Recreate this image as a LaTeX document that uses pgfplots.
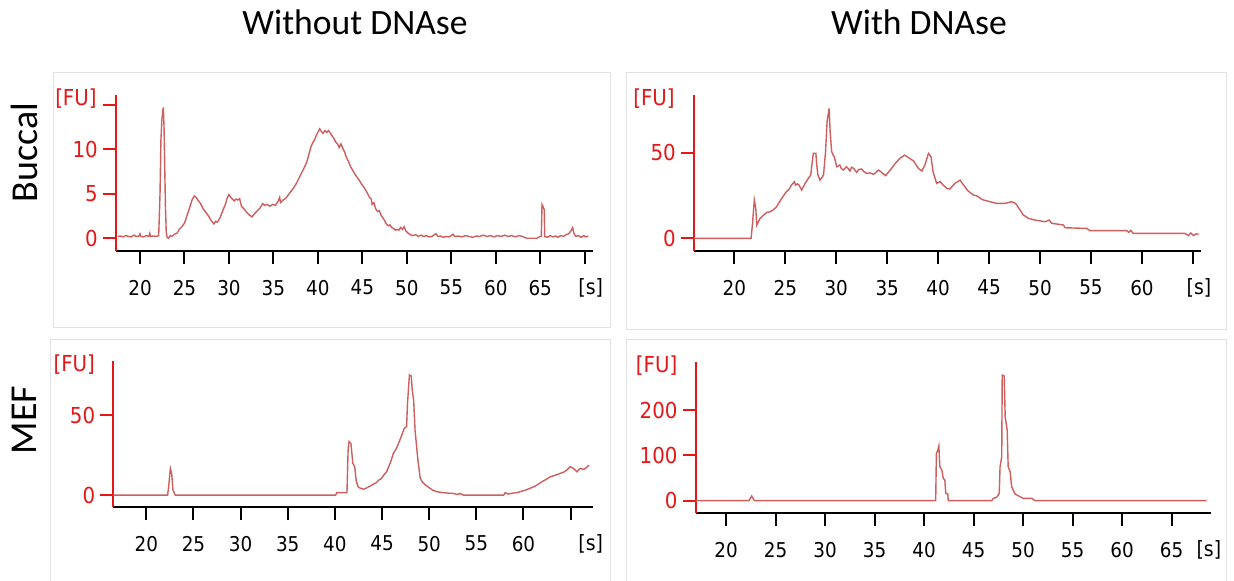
\documentclass[border=0pt]{standalone}
\usepackage{fontspec}
\setmainfont{Carlito}
\newfontfamily\tickfont{DejaVu Sans Condensed}
\usepackage{pgfplots}
\pgfplotsset{compat=1.18}
\definecolor{axred}{RGB}{228,24,24}
\definecolor{linec}{RGB}{205,95,95}
\definecolor{framegray}{RGB}{225,225,225}
\pgfplotsset{
  ep/.style={
    scale only axis, anchor=south west, clip=false,
    axis x line*=bottom, axis y line*=left,
    x axis line style={black, line width=1.1pt},
    y axis line style={axred, line width=1pt},
    tick align=outside, major tick length=6.5pt,
    x tick style={black, line width=1pt},
    y tick style={axred, line width=1pt},
    minor tick num=0,
    xticklabel style={font=\tickfont\fontsize{10.2}{11}\selectfont, inner sep=0pt, anchor=north, yshift=-8pt},
    yticklabel style={font=\tickfont\fontsize{11}{12}\selectfont, text=axred, inner sep=0pt, anchor=east, xshift=-2.4pt},
    scaled ticks=false,
  },
}
\tikzset{
  pl/.style={linec, line width=0.7pt, mark=none},
  slab/.style={font=\tickfont\fontsize{10.5}{11}\selectfont, inner sep=0pt, anchor=north},
  fulab/.style={font=\tickfont\fontsize{11}{12}\selectfont, text=axred, inner sep=0pt, anchor=east},
}
\begin{document}
\begin{tikzpicture}
\useasboundingbox (0,0) rectangle (617pt,-290.5pt);
\fill[white] (0,0) rectangle (617pt,-290.5pt);
\draw[framegray, line width=0.5pt] (26.5pt,-36.5pt) rectangle (305pt,-164pt);
\draw[framegray, line width=0.5pt] (313pt,-36.5pt) rectangle (613pt,-165pt);
\draw[framegray, line width=0.5pt] (25pt,-170pt) rectangle (305pt,-292pt);
\draw[framegray, line width=0.5pt] (313pt,-170pt) rectangle (613pt,-292pt);

\node[anchor=base, font=\fontsize{17.8}{20}\selectfont] at (177.5pt,-17.5pt) {Without DNAse};
\node[anchor=base, font=\fontsize{17.8}{20}\selectfont] at (459.5pt,-17.5pt) {With DNAse};
\node[rotate=90, font=\fontsize{19}{21}\selectfont] at (12pt,-76.25pt) {Buccal};
\node[rotate=90, font=\fontsize{19}{21}\selectfont] at (12pt,-210pt) {MEF};

% Panel 1: Buccal without DNAse
\begin{axis}[ep, at={(58pt,-125.35pt)}, width=238.35pt, height=77.85pt,
  xmin=17.3, xmax=70.9, ymin=-1.4, ymax=16.1,
  xtick={20,25,30,35,40,45,50,55,60,65,70},
  xticklabels={20,25,30,35,40,45,50,55,60,65,},
  ytick={0,5,10,15}, yticklabels={0,5,10,}]
\addplot[pl] coordinates {
(17.5,0.2)(17.8,0.25)(18.1,0.15)(18.4,0.3)(18.7,0.2)(19.0,0.15)(19.3,0.35)(19.6,0.2)(19.9,0.25)(20.0,0.5)(20.1,0.2)(20.4,0.15)(20.7,0.3)(21.0,0.2)(21.1,0.55)(21.2,0.2)(21.5,0.25)(21.8,0.2)(22.1,0.3)
(22.25,5)(22.35,11)(22.45,13.2)(22.55,14.2)(22.62,14.7)(22.7,12.5)(22.78,8)(22.86,3.5)(22.95,0.6)(23.05,0.1)(23.2,0.0)(23.4,0.3)(23.6,0.2)(23.8,0.4)(24.0,0.5)(24.2,0.6)(24.4,1.0)(24.7,1.3)(25.0,1.7)(25.3,2.6)(25.6,3.5)(25.85,4.3)(26.1,4.75)(26.3,4.6)(26.5,4.3)(26.8,3.9)(27.1,3.3)(27.4,2.9)(27.7,2.5)(28.0,2.0)(28.3,1.6)(28.5,1.9)(28.7,1.8)(29.0,2.3)(29.3,3.1)(29.6,3.8)(29.8,4.5)(30.0,4.9)(30.2,4.6)(30.4,4.4)(30.6,4.2)(30.8,4.4)(31.0,4.3)(31.2,4.45)(31.4,3.6)(31.7,3.3)(32.0,2.9)(32.3,2.6)(32.6,2.4)(32.9,2.8)(33.2,3.1)(33.5,3.4)(33.8,3.9)(34.0,3.7)(34.3,3.8)(34.6,3.6)(34.9,3.8)(35.2,3.7)(35.5,4.1)(35.7,4.6)(35.8,4.0)(36.1,4.3)(36.4,4.5)(36.7,4.9)(37.0,5.3)(37.3,5.7)(37.6,6.2)(37.9,6.8)(38.2,7.4)(38.5,8.0)(38.8,8.7)(39.0,9.5)(39.2,10.2)(39.4,10.7)(39.6,11.0)(39.8,11.5)(40.0,11.9)(40.2,12.3)(40.4,12.0)(40.6,11.8)(40.8,12.1)(41.0,11.9)(41.2,12.1)(41.4,11.8)(41.6,11.5)(41.8,11.2)(42.0,10.8)(42.2,10.6)(42.4,10.2)(42.6,10.6)(42.8,10.1)(43.0,9.7)(43.2,9.1)(43.4,8.7)(43.7,8.0)(44.0,7.5)(44.3,7.0)(44.6,6.6)(44.9,6.1)(45.2,5.7)(45.5,5.2)(45.8,4.6)(46.0,4.4)(46.1,3.8)(46.3,4.0)(46.5,3.3)(46.7,3.0)(46.9,3.1)(47.1,2.6)(47.3,2.3)(47.5,2.0)(47.7,1.6)(47.9,1.4)(48.1,1.5)(48.3,1.2)(48.5,1.1)(48.7,0.9)(48.9,1.0)(49.1,0.9)(49.3,1.2)(49.5,1.0)(49.7,1.3)(49.9,0.8)(50.1,0.6)(50.4,0.4)(50.7,0.3)(51.0,0.4)(51.3,0.2)(51.6,0.35)(51.9,0.2)(52.2,0.3)(52.5,0.15)(52.8,0.2)(53.1,0.4)(53.3,0.5)(53.5,0.2)(53.8,0.25)(54.1,0.1)(54.4,0.2)(54.7,0.15)(55.0,0.3)(55.2,0.45)(55.4,0.2)(55.8,0.25)(56.2,0.15)(56.6,0.3)(57.0,0.2)(57.4,0.1)(57.8,0.25)(58.2,0.2)(58.6,0.35)(59.0,0.2)(59.4,0.3)(59.8,0.15)(60.2,0.3)(60.6,0.2)(61.0,0.35)(61.4,0.2)(61.8,0.3)(62.2,0.15)(62.6,0.3)(63.0,0.2)(63.5,0.0)(64.0,0.0)(64.6,0.0)(65.0,0.2)(65.12,0.2)(65.2,3.8)(65.3,3.6)(65.45,3.2)(65.5,0.2)(65.8,0.1)(66.1,0.3)(66.4,0.15)(66.7,0.25)(67.0,0.1)(67.3,0.3)(67.6,0.2)(67.9,0.4)(68.2,0.5)(68.5,0.9)(68.65,1.2)(68.8,0.5)(69.0,0.2)(69.3,0.3)(69.6,0.1)(69.9,0.3)(70.1,0.15)(70.4,0.25)
};
\node[slab] at (rel axis cs:1,0) [xshift=-1pt, yshift=-13.6pt] {[s]};
\node[fulab] at (rel axis cs:0,1) [xshift=-9.5pt, yshift=-1.7pt] {[FU]};
\end{axis}

% Panel 2: Buccal with DNAse
\begin{axis}[ep, at={(347pt,-125.35pt)}, width=253.5pt, height=77.85pt,
  xmin=16.04, xmax=65.8, ymin=-7.2, ymax=83.7,
  xtick={20,25,30,35,40,45,50,55,60,65},
  xticklabels={20,25,30,35,40,45,50,55,60,},
  ytick={0,50}, yticklabels={0,50}]
\addplot[pl] coordinates {
(16.04,0)(21.64,0)(21.77,7.8)(21.96,22.4)(22.1,17.5)(22.2,7.8)(22.36,9.7)(22.5,11.5)(22.7,12.6)(22.9,13.8)(23.2,15.2)(23.5,15.5)(23.8,16.5)(24.15,18.5)(24.4,21)(24.65,23.3)(24.9,25.5)(25.1,27.2)(25.35,28.5)(25.6,31.1)(25.9,33.1)(26.0,31.1)(26.2,31.8)(26.35,31.1)(26.6,28.2)(26.95,32.1)(27.25,35.0)(27.5,37.0)(27.65,45)(27.75,49.6)(28.0,49.6)(28.1,42)(28.2,37.0)(28.4,34.0)(28.6,35.5)(28.75,37.0)(28.95,50.6)(29.1,68.1)(29.3,75.9)(29.4,62.3)(29.55,50.6)(29.7,48.5)(29.8,47.7)(30.05,41.8)(30.35,42.8)(30.5,40.8)(30.7,39.9)(31.0,41.8)(31.2,40.5)(31.35,39.3)(31.5,41.5)(31.7,40.9)(32.0,38.5)(32.2,40.2)(32.5,40.5)(32.7,39.0)(33.0,37.9)(33.3,38.2)(33.65,37.4)(33.9,38.5)(34.15,39.9)(34.45,38.5)(34.85,36.6)(35.1,38.5)(35.3,39.9)(35.8,43.8)(36.25,46.7)(36.7,48.6)(37.1,47.1)(37.6,45.1)(38.05,40.9)(38.4,39.3)(38.7,42.8)(39.05,49.6)(39.3,47.7)(39.5,38.9)(39.85,32.1)(40.2,33.1)(40.5,31.1)(40.85,29.2)(41.15,28.8)(41.4,30.5)(41.65,32.1)(42.15,34.0)(42.5,31.1)(42.95,27.6)(43.2,26.5)(43.45,25.3)(43.7,25.0)(43.95,24.3)(44.2,23.1)(44.45,22.4)(45.1,21.4)(45.75,20.4)(46.55,20.4)(47.2,21.4)(47.6,20.4)(48.05,16.5)(48.35,13.6)(48.6,12.8)(48.85,11.7)(49.5,10.7)(50.5,9.7)(50.9,10.7)(51.15,8.8)(52.3,7.8)(52.45,6.2)(54.6,5.8)(54.9,4.5)(58.5,4.5)(58.7,3.5)(58.9,4.7)(59.15,2.9)(64.2,2.9)(64.55,1.6)(64.8,3.1)(65.05,1.6)(65.3,2.6)(65.56,2.4)
};
\node[slab] at (rel axis cs:1,0) [xshift=-1pt, yshift=-13.6pt] {[s]};
\node[fulab] at (rel axis cs:0,1) [xshift=-9.5pt, yshift=-1.7pt] {[FU]};
\end{axis}

% Panel 3: MEF without DNAse
\begin{axis}[ep, at={(56.65pt,-253.35pt)}, width=239.7pt, height=73pt,
  xmin=16.5, xmax=67.34, ymin=-7.3, ymax=84.3,
  xtick={20,25,30,35,40,45,50,55,60,65},
  xticklabels={20,25,30,35,40,45,50,55,60,},
  ytick={0,50}, yticklabels={0,50}]
\addplot[pl] coordinates {
(16.5,0)(22.26,0)(22.37,5.2)(22.55,16.7)(22.69,13.6)(22.83,3.1)(23.07,0)(40.08,0)(40.2,1.5)(41.28,1.5)(41.4,28.2)(41.5,33.5)(41.7,32.4)(41.9,19.9)(42.1,17.8)(42.27,8.4)(42.5,4.8)(43.05,3.6)(43.6,5.2)(43.8,5.8)(44.1,6.9)(44.4,7.8)(44.65,9.4)(44.9,10.2)(45.2,12.6)(45.5,14.8)(45.7,17.8)(45.9,20.5)(46.2,26.2)(46.5,29.0)(46.75,32.4)(47.1,37.7)(47.35,41.8)(47.6,42.9)(47.7,57.5)(47.9,75.3)(48.1,74.7)(48.2,65.9)(48.35,59.6)(48.5,40.8)(48.8,22.0)(49.05,10.5)(49.3,8.0)(49.6,6.3)(50.1,4.2)(50.4,3.0)(50.8,2.1)(51.5,1.5)(52.0,1.2)(52.6,1.0)(53.0,0.3)(53.2,1.0)(53.5,0.4)(53.65,0)(57.9,0)(58.07,1.5)(58.4,0.6)(58.8,1.2)(59.3,1.5)(59.8,2.4)(60.2,3.1)(60.6,4.0)(61.1,5.2)(61.5,6.6)(61.95,8.4)(62.4,9.8)(62.85,11.5)(63.3,12.3)(63.9,13.6)(64.3,14.5)(64.6,15.7)(64.96,17.8)(65.3,16.7)(65.67,14.6)(66.0,16.7)(66.4,16.1)(66.7,17.4)(66.94,18.8)
};
\node[slab] at (rel axis cs:1,0) [xshift=-1pt, yshift=-13.6pt] {[s]};
\node[fulab] at (rel axis cs:0,1) [xshift=-9pt, yshift=-2pt] {[FU]};
\end{axis}

% Panel 4: MEF with DNAse
\begin{axis}[ep, at={(347.85pt,-256.65pt)}, width=257.55pt, height=75.8pt,
  xmin=16.94, xmax=68.97, ymin=-27.8, ymax=306.6,
  xtick={20,25,30,35,40,45,50,55,60,65},
  xticklabels={20,25,30,35,40,45,50,55,60,65},
  ytick={0,100,200}, yticklabels={0,100,200}]
\addplot[pl] coordinates {
(16.94,0)(22.32,0)(22.6,10.3)(22.86,0)(41.18,0)(41.25,104)(41.4,112)(41.5,120.6)(41.6,75)(41.8,67.6)(41.95,49)(42.1,45.6)(42.2,16.2)(42.4,14.7)(42.45,0)(46.84,0)(47.0,5.1)(47.34,7.4)(47.6,16.2)(47.68,75)(47.85,97)(47.9,277)(48.1,275)(48.2,185)(48.4,156)(48.5,75)(48.7,64)(48.85,30.9)(49.2,14.7)(49.7,8.8)(50.03,5.1)(50.9,5.1)(51.2,0)(68.55,0)
};
\node[slab] at (rel axis cs:1,0) [xshift=-1pt, yshift=-13.6pt] {[s]};
\node[fulab] at (rel axis cs:0,1) [xshift=-9pt, yshift=-2pt] {[FU]};
\end{axis}
\end{tikzpicture}
\end{document}
